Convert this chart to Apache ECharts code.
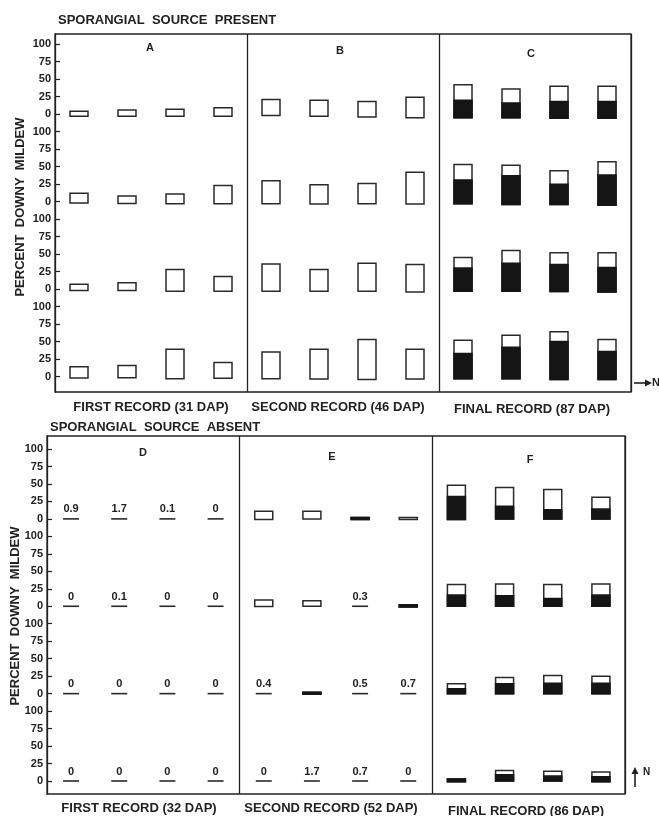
<!DOCTYPE html>
<html><head><meta charset="utf-8">
<script src="https://cdn.jsdelivr.net/npm/echarts@6/dist/echarts.min.js"></script>
<style>html,body{margin:0;padding:0;background:#fff}#c{width:659px;height:816px}</style>
</head><body><div id="c"></div>
<script>
// ---- categories (4 plots per record panel) ----
const upperCategories = ['A1','A2','A3','A4','B1','B2','B3','B4','C1','C2','C3','C4'];
const lowerCategories = ['D1','D2','D3','D4','E1','E2','E3','E4','F1','F2','F3','F4'];
// each panel stacks 4 rows, each row its own 0-100 scale; row zero values on one axis
const rowZero = [375, 250, 125, 0];
const tickValues = [0,25,50,75,100,125,150,175,200,225,250,275,300,325,350,375,400,425,450,475];

// ---- SPORANGIAL SOURCE PRESENT ----
const A_low  = [[-3,-3,-3,-3],[-2,-2.5,-3,-3],[-2,-2,-3,-3],[-2,-1.5,-3,-2.5]];
const A_high = [[4,6,7,9],[12,8,11,23],[7,9,28,18],[14,16,39,20]];
const B_low  = [[-2,-3,-4,-5],[-3,-3.5,-3,-3.5],[-3,-3,-3,-4],[-3,-3.5,-4,-3.5]];
const B_high = [[21,20,18,24],[30,24,26,42],[36,28,37,35],[35,39,53,39]];
const C_low  = [[-5,-5,-6,-6],[-3,-4,-4,-5],[-3,-3,-3.5,-4],[-3,-3,-4,-4]];
const C_black= [[20,16,18,18],[31,37,25,38],[30,37,35,31],[33,42,50,36]];
const C_high = [[42,36,40,40],[53,52,44,57],[45,55,52,52],[52,59,64,53]];

// ---- SPORANGIAL SOURCE ABSENT ----
const D_label = [['0.9','1.7','0.1','0'],['0','0.1','0','0'],['0','0','0','0'],['0','0','0','0']];
const E_low   = [[-1,0,-1,-1],[-0.5,0,null,-1],[null,-1,null,null],[null,null,null,null]];
const E_black = [[null,null,2,null],[null,null,null,2],[null,2,null,null],[null,null,null,null]];
const E_high  = [[11,11,2,2],[9,8,null,2],[null,2,null,null],[null,null,null,null]];
const E_label = [[null,null,null,null],[null,null,'0.3',null],['0.4',null,'0.5','0.7'],['0','1.7','0.7','0']];
const F_low   = [[-1,0,0,0],[0,0,0,0],[0,0,0,0],[-1,0,0,-1]];
const F_black = [[32,18,13,14],[16,15,11,16],[7,14,15,15],[3,9,7,6]];
const F_high  = [[48,45,42,31],[31,32,31,32],[14,23,26,25],[3,15,14,13]];

function buildMarks(panels){
  const marks=[];
  panels.forEach((p,pi)=>{
    for(let r=0;r<4;r++) for(let c=0;c<4;c++){
      const g=(arr)=>arr?arr[r][c]:null;
      marks.push({x:pi*4+c, base:rowZero[r], low:g(p.low), black:g(p.black), high:g(p.high), label:g(p.label)});
    }
  });
  return marks;
}
const upperMarks = buildMarks([{low:A_low,high:A_high},{low:B_low,high:B_high},{low:C_low,black:C_black,high:C_high}]);
const lowerMarks = buildMarks([{label:D_label},{low:E_low,black:E_black,high:E_high,label:E_label},{low:F_low,black:F_black,high:F_high}]);

const INK='#222';
const FONT='"Liberation Sans", Arial, Helvetica, sans-serif';
function makeRender(marks){
  return function(params, api){
    const m = marks[params.dataIndex];
    const p0 = api.coord([m.x, m.base]);
    const cx = p0[0], y0 = p0[1];
    const children=[];
    if(m.high==null){
      children.push({type:'line', shape:{x1:cx-8,y1:y0,x2:cx+8,y2:y0}, style:{stroke:'#2a2a2a', lineWidth:1.6}});
      if(m.label!=null) children.push({type:'text', style:{text:m.label, x:cx, y:y0-4, align:'center', verticalAlign:'bottom', font:'bold 11px '+FONT, fill:INK}});
    } else {
      const yl = api.coord([m.x, m.base+m.low])[1];
      const yh = api.coord([m.x, m.base+m.high])[1];
      children.push({type:'rect', shape:{x:cx-9, y:yh, width:18, height:yl-yh}, style:{fill:'#fff', stroke:'#2a2a2a', lineWidth:1.5}});
      if(m.black!=null){
        const yb = api.coord([m.x, m.base+m.black])[1];
        children.push({type:'rect', shape:{x:cx-9, y:yb, width:18, height:yl-yb}, style:{fill:'#151515', stroke:'#151515', lineWidth:1.5}});
      }
      if(m.label!=null) children.push({type:'text', style:{text:m.label, x:cx, y:yh-4, align:'center', verticalAlign:'bottom', font:'bold 11px '+FONT, fill:INK}});
    }
    return {type:'group', children};
  };
}
function seriesData(marks){
  return marks.map(m=>[m.x, m.base+(m.low==null?0:m.low), m.base+(m.high==null?0:m.high)]);
}
function yAxisOpt(gi,min,max){
  return {type:'value', gridIndex:gi, min:min, max:max,
    axisLine:{show:true, lineStyle:{color:INK, width:1.3}},
    axisTick:{show:true, inside:true, length:5, customValues:tickValues, lineStyle:{color:INK, width:1.2}},
    axisLabel:{show:true, margin:4, customValues:tickValues, color:INK, fontSize:11, fontWeight:'bold', fontFamily:FONT,
      formatter:v=>{const r=((v%125)+125)%125; return r<=100?String(r):'';}},
    splitLine:{show:false}};
}
function xAxisOpt(gi,cats){
  return {type:'category', gridIndex:gi, data:cats, boundaryGap:true,
    axisLine:{show:false}, axisTick:{show:false}, axisLabel:{show:false},
    splitLine:{show:true, interval:(i)=>i===4||i===8, lineStyle:{color:INK, width:1.3}}};
}
function txt(text,x,y,size,align){
  return {type:'text', x:x, y:y, style:{text:text, font:'bold '+size+'px '+FONT, fill:INK, align:align||'center', verticalAlign:'middle'}};
}
function vtxt(text,x,y){
  return {type:'text', x:x, y:y, rotation:Math.PI/2, style:{text:text, font:'bold 13px '+FONT, fill:INK, align:'center', verticalAlign:'middle'}};
}
const chart = echarts.init(document.getElementById('c'), null, {renderer:'canvas'});
chart.setOption({
  animation:false,
  backgroundColor:'#fff',
  grid:[
    {left:55, top:34, width:576, height:358, show:true, borderColor:INK, borderWidth:1.3, backgroundColor:'#fff'},
    {left:47, top:436, width:578, height:358, show:true, borderColor:INK, borderWidth:1.3, backgroundColor:'#fff'}
  ],
  xAxis:[xAxisOpt(0,upperCategories), xAxisOpt(1,lowerCategories)],
  yAxis:[yAxisOpt(0,-22,489.5), yAxisOpt(1,-18.6,493.6)],
  series:[
    {type:'custom', xAxisIndex:0, yAxisIndex:0, data:seriesData(upperMarks), encode:{x:0,y:[1,2]}, renderItem:makeRender(upperMarks), clip:false},
    {type:'custom', xAxisIndex:1, yAxisIndex:1, data:seriesData(lowerMarks), encode:{x:0,y:[1,2]}, renderItem:makeRender(lowerMarks), clip:false}
  ],
  graphic:[
    txt('SPORANGIAL  SOURCE  PRESENT',58,20,13,'left'),
    txt('A',150,48,11), txt('B',340,51,11), txt('C',531,54,11),
    txt('FIRST RECORD (31 DAP)',151,407,13), txt('SECOND RECORD (46 DAP)',338,407,13), txt('FINAL RECORD (87 DAP)',532,409,13),
    vtxt('PERCENT  DOWNY  MILDEW',20,207),
    {type:'line', shape:{x1:634,y1:383,x2:648,y2:383}, style:{stroke:INK, lineWidth:1.6}},
    {type:'polygon', shape:{points:[[652,383],[645,379.5],[645,386.5]]}, style:{fill:INK}},
    txt('N',652,383,11,'left'),
    txt('SPORANGIAL  SOURCE  ABSENT',50,427,13,'left'),
    txt('D',143,453,11), txt('E',332,457,11), txt('F',530,460,11),
    vtxt('PERCENT  DOWNY  MILDEW',15,616),
    txt('FIRST RECORD (32 DAP)',139,808,13), txt('SECOND RECORD (52 DAP)',331,808,13), txt('FINAL RECORD (86 DAP)',526,811,13),
    {type:'line', shape:{x1:635,y1:787,x2:635,y2:772}, style:{stroke:INK, lineWidth:1.6}},
    {type:'polygon', shape:{points:[[635,767],[631.5,774],[638.5,774]]}, style:{fill:INK}},
    txt('N',643,772,10,'left')
  ]
});
</script></body></html>
